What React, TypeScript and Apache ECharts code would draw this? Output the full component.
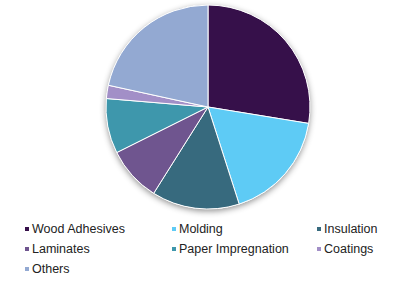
import React, { useEffect, useRef } from "react";
import * as echarts from "echarts";

const categories = ["Wood Adhesives", "Molding", "Insulation", "Laminates", "Paper Impregnation", "Coatings", "Others"];
const values = [27.6, 17.5, 13.9, 8.7, 8.7, 2.1, 21.6];
const colors = ["#36104a", "#5ecbf5", "#376a7e", "#6f558f", "#3e97ac", "#a28fc7", "#93a9d2"];
const legendCol1 = ["Wood Adhesives", "Laminates", "Others"];
const legendCol2 = ["Molding", "Paper Impregnation"];
const legendCol3 = ["Insulation", "Coatings"];

export default function App() {
  const ref = useRef<HTMLDivElement>(null);
  useEffect(() => {
    document.body.style.margin = "0";
    const chart = echarts.init(ref.current!, null, { renderer: "svg" });
    const legendBase = {
      orient: "vertical" as const,
      top: 222,
      height: 60,
      padding: 0,
      itemWidth: 6,
      itemHeight: 6,
      itemGap: 6,
      icon: "rect",
      selectedMode: false,
      textStyle: {
        fontFamily: "Liberation Sans, Arial, sans-serif",
        fontSize: 12.5,
        lineHeight: 14,
        color: "#222222",
        padding: [0, 0, 0, -3],
      },
    };
    chart.setOption({
      animation: false,
      color: colors,
      legend: [
        { ...legendBase, left: 23, data: legendCol1 },
        { ...legendBase, left: 170, data: legendCol2 },
        { ...legendBase, left: 315, data: legendCol3 },
      ],
      series: [
        {
          type: "pie",
          silent: true,
          center: [208, 107],
          radius: 102,
          z: 1,
          label: { show: false },
          labelLine: { show: false },
          itemStyle: {
            color: "#ffffff",
            shadowBlur: 6,
            shadowOffsetY: 2,
            shadowColor: "rgba(0,0,0,0.45)",
          },
          data: [{ value: 1, name: "__bg" }],
          tooltip: { show: false },
        },
        {
          type: "pie",
          center: [208, 107],
          radius: 102,
          startAngle: 90,
          clockwise: true,
          z: 2,
          label: { show: false },
          labelLine: { show: false },
          itemStyle: { borderColor: "#ffffff", borderWidth: 1 },
          data: categories.map((c, i) => ({ name: c, value: values[i] })),
        },
      ],
    });
    return () => chart.dispose();
  }, []);
  return <div ref={ref} style={{ width: 416, height: 281 }} />;
}
